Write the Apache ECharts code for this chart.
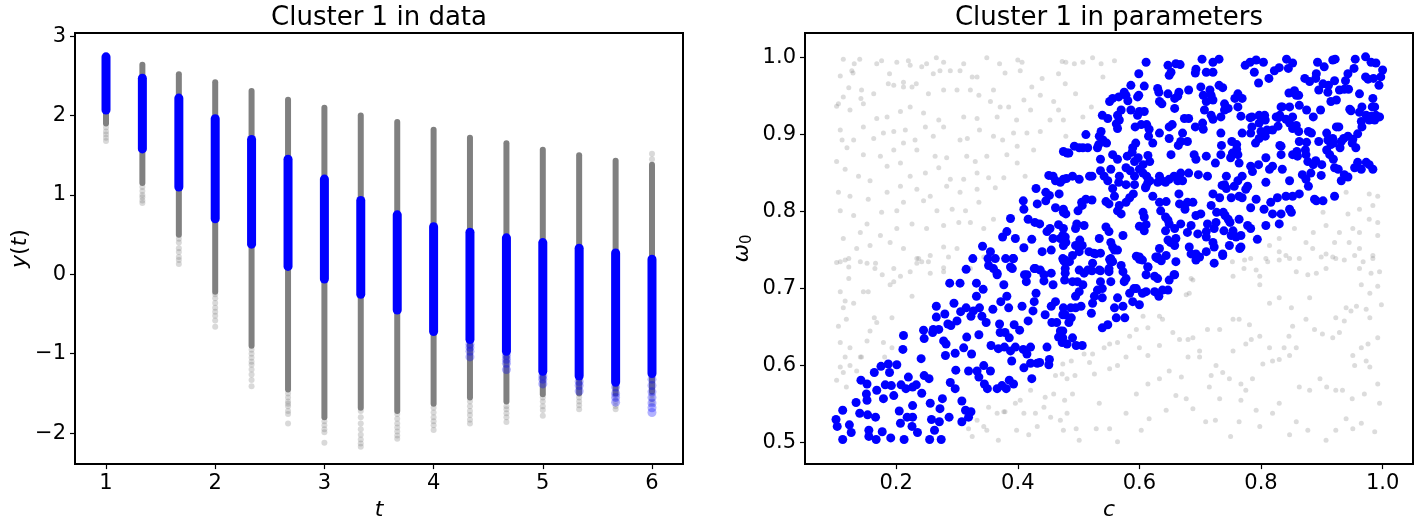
<!DOCTYPE html>
<html>
<head>
<meta charset="utf-8">
<script src="https://cdn.jsdelivr.net/npm/echarts@6/dist/echarts.min.js"></script>
<style>
  html, body { margin: 0; padding: 0; background: #fff; }
  #chart { width: 1424px; height: 526px; }
</style>
</head>
<body>
<div id="chart"></div>
<script>
// ---- left panel: y(t) per time step ----
var tVals = [1, 1.333, 1.667, 2, 2.333, 2.667, 3, 3.333, 3.667, 4, 4.333, 4.667, 5, 5.333, 5.667, 6];
// dense part of the grey strips
var grayHi = [2.72, 2.64, 2.52, 2.42, 2.31, 2.20, 2.10, 2.00, 1.92, 1.82, 1.72, 1.65, 1.57, 1.50, 1.43, 1.38];
var grayLo = [1.90, 1.15, 0.50, -0.22, -0.90, -1.45, -1.80, -1.68, -1.72, -1.63, -1.55, -1.60, -1.51, -1.50, -1.50, -1.48];
// dense part of the blue strips (cluster 1)
var blueHi = [2.74, 2.47, 2.22, 1.96, 1.70, 1.45, 1.20, 0.93, 0.75, 0.60, 0.53, 0.46, 0.40, 0.33, 0.27, 0.19];
var blueLo = [2.07, 1.58, 1.10, 0.70, 0.38, 0.10, -0.06, -0.25, -0.45, -0.72, -0.82, -0.97, -1.22, -1.28, -1.36, -1.25];
// sparse tail points
var grayTail = [
  [1, 1.85], [1, 1.80], [1, 1.76], [1, 1.72], [1, 1.68],
  [1.333, 1.10], [1.333, 1.05], [1.333, 1.00], [1.333, 0.97], [1.333, 0.93], [1.333, 0.90],
  [1.667, 0.45], [1.667, 0.40], [1.667, 0.33], [1.667, 0.28], [1.667, 0.22], [1.667, 0.18], [1.667, 0.13],
  [2, -0.25], [2, -0.30], [2, -0.36], [2, -0.42], [2, -0.47], [2, -0.52], [2, -0.58], [2, -0.66],
  [2.333, -0.95], [2.333, -1.00], [2.333, -1.05], [2.333, -1.10], [2.333, -1.14], [2.333, -1.20], [2.333, -1.26], [2.333, -1.33], [2.333, -1.41],
  [2.667, -1.50], [2.667, -1.55], [2.667, -1.60], [2.667, -1.63], [2.667, -1.66], [2.667, -1.72], [2.667, -1.76], [2.667, -1.88],
  [3, -1.85], [3, -1.90], [3, -1.95], [3, -1.99], [3, -2.12],
  [3.333, -1.72], [3.333, -1.80], [3.333, -1.88], [3.333, -1.95], [3.333, -2.02], [3.333, -2.08], [3.333, -2.13], [3.333, -2.17],
  [3.667, -1.76], [3.667, -1.82], [3.667, -1.88], [3.667, -1.93], [3.667, -1.98], [3.667, -2.03], [3.667, -2.07],
  [4, -1.68], [4, -1.74], [4, -1.80], [4, -1.85], [4, -1.90], [4, -1.96],
  [4.333, -1.60], [4.333, -1.66], [4.333, -1.72], [4.333, -1.77], [4.333, -1.83], [4.333, -1.88],
  [4.667, -1.66], [4.667, -1.70], [4.667, -1.75], [4.667, -1.80], [4.667, -1.86],
  [5, -1.55], [5, -1.60], [5, -1.66], [5, -1.71], [5, -1.78],
  [5.333, -1.55], [5.333, -1.60], [5.333, -1.65], [5.333, -1.70],
  [5.667, -1.55], [5.667, -1.60], [5.667, -1.66], [5.667, -1.70],
  [6, -1.52], [6, -1.57], [6, -1.62], [6, 1.45], [6, 1.52]
];
var blueTail = [
  [4.333, -0.88], [4.333, -0.92], [4.333, -0.97], [4.333, -1.04],
  [4.667, -1.02], [4.667, -1.07], [4.667, -1.12], [4.667, -1.20],
  [5, -1.28], [5, -1.32], [5, -1.38],
  [5.333, -1.35], [5.333, -1.40], [5.333, -1.47],
  [5.667, -1.42], [5.667, -1.50], [5.667, -1.55], [5.667, -1.61],
  [6, -1.32], [6, -1.40], [6, -1.48], [6, -1.55], [6, -1.62], [6, -1.68], [6, -1.74]
];
var xTicksL = [1, 2, 3, 4, 5, 6];
var yTicksL = [-2, -1, 0, 1, 2, 3];

// ---- right panel: parameters (c, omega_0) ----
var blueParams = [
  [0.101,0.530],[0.103,0.521],[0.112,0.504],[0.112,0.542],[0.123,0.523],[0.126,0.513],[0.134,0.552],[0.140,0.538],
  [0.142,0.581],[0.152,0.576],[0.151,0.563],[0.152,0.555],[0.153,0.536],[0.155,0.516],[0.155,0.508],[0.166,0.533],
  [0.167,0.504],[0.168,0.568],[0.164,0.591],[0.175,0.599],[0.177,0.514],[0.179,0.557],[0.182,0.575],[0.187,0.602],
  [0.189,0.591],[0.192,0.574],[0.191,0.506],[0.196,0.561],[0.201,0.601],[0.205,0.541],[0.207,0.525],[0.208,0.575],
  [0.212,0.639],[0.211,0.621],[0.213,0.504],[0.216,0.570],[0.218,0.533],[0.220,0.585],[0.226,0.521],[0.227,0.548],
  [0.227,0.572],[0.227,0.533],[0.233,0.575],[0.235,0.513],[0.241,0.609],[0.242,0.564],[0.245,0.646],[0.246,0.635],
  [0.246,0.587],[0.254,0.583],[0.255,0.504],[0.256,0.551],[0.258,0.530],[0.260,0.643],[0.261,0.647],[0.263,0.516],
  [0.266,0.663],[0.266,0.677],[0.270,0.647],[0.271,0.527],[0.272,0.544],[0.274,0.504],[0.276,0.557],[0.278,0.632],
  [0.280,0.667],[0.281,0.613],[0.282,0.628],[0.285,0.654],[0.287,0.533],[0.288,0.707],[0.289,0.578],[0.290,0.652],
  [0.295,0.681],[0.297,0.616],[0.297,0.570],[0.298,0.594],[0.300,0.658],[0.305,0.707],[0.306,0.670],[0.308,0.554],
  [0.308,0.527],[0.311,0.623],[0.314,0.542],[0.315,0.675],[0.316,0.637],[0.319,0.593],[0.319,0.533],[0.323,0.540],
  [0.323,0.664],[0.324,0.615],[0.327,0.671],[0.332,0.707],[0.332,0.690],[0.333,0.593],[0.336,0.585],[0.336,0.640],
  [0.337,0.675],[0.341,0.664],[0.343,0.699],[0.344,0.600],[0.345,0.576],[0.348,0.656],[0.350,0.570],[0.355,0.593],
  [0.356,0.626],[0.359,0.673],[0.360,0.726],[0.363,0.739],[0.366,0.720],[0.366,0.570],[0.368,0.622],[0.370,0.654],
  [0.371,0.643],[0.372,0.683],[0.374,0.574],[0.377,0.705],[0.378,0.624],[0.379,0.643],[0.381,0.570],[0.382,0.690],
  [0.385,0.675],[0.386,0.636],[0.386,0.581],[0.388,0.619],[0.388,0.728],[0.390,0.606],[0.392,0.739],[0.393,0.576],
  [0.394,0.653],[0.396,0.624],[0.403,0.646],[0.407,0.677],[0.409,0.621],[0.410,0.597],[0.411,0.718],[0.414,0.709],
  [0.415,0.615],[0.417,0.658],[0.421,0.603],[0.421,0.624],[0.423,0.583],[0.425,0.671],[0.427,0.726],[0.427,0.683],
  [0.430,0.694],[0.432,0.603],[0.436,0.604],[0.437,0.724],[0.443,0.710],[0.445,0.666],[0.448,0.624],[0.451,0.601],
  [0.452,0.608],[0.455,0.677],[0.456,0.656],[0.458,0.705],[0.462,0.683],[0.464,0.656],[0.467,0.637],[0.470,0.645],
  [0.473,0.630],[0.475,0.737],[0.475,0.675],[0.478,0.666],[0.478,0.720],[0.481,0.628],[0.484,0.656],
  [0.475,0.878],[0.481,0.876],[0.451,0.847],[0.458,0.846],[0.462,0.840],[0.470,0.838],[0.480,0.843],[0.430,0.830],
  [0.446,0.825],[0.452,0.821],[0.468,0.823],[0.409,0.814],[0.432,0.810],[0.446,0.814],[0.462,0.805],[0.410,0.803],
  [0.417,0.790],[0.428,0.786],[0.436,0.784],[0.448,0.774],[0.453,0.778],[0.467,0.783],[0.475,0.799],[0.475,0.778],
  [0.458,0.765],[0.470,0.765],[0.478,0.767],[0.388,0.791],[0.382,0.774],[0.375,0.767],[0.396,0.765],[0.410,0.753],
  [0.423,0.764],[0.440,0.748],[0.455,0.750],[0.475,0.756],[0.342,0.755],[0.355,0.748],[0.326,0.739],[0.315,0.725],
  [0.351,0.739],[0.352,0.730],[0.380,0.739],[0.393,0.739],[0.391,0.726],[0.366,0.718],[0.415,0.718],[0.429,0.726],
  [0.443,0.718],[0.455,0.720],[0.478,0.737],[0.478,0.726],
  [0.611,0.994],[0.599,0.979],[0.647,0.990],[0.652,0.981],[0.660,0.992],[0.667,0.991],[0.649,0.977],[0.693,0.985],
  [0.692,0.980],[0.703,0.998],[0.710,0.981],[0.721,0.994],[0.721,0.981],[0.731,0.998],[0.774,0.990],[0.782,0.994],
  [0.792,0.997],[0.804,0.994],[0.789,0.981],[0.796,0.967],[0.813,0.973],[0.822,0.983],[0.830,0.987],[0.842,0.998],
  [0.852,0.993],[0.845,0.986],[0.893,0.994],[0.904,0.988],[0.918,0.997],[0.922,0.998],[0.955,0.998],[0.972,1.001],
  [0.981,0.994],[0.989,0.993],[1.000,0.984],[0.997,0.975],[0.985,0.973],[0.972,0.975],[0.976,0.972],[0.943,0.979],
  [0.939,0.970],[0.953,0.986],[0.994,0.964],
  [0.586,0.964],[0.599,0.951],[0.608,0.963],[0.630,0.960],[0.632,0.955],[0.647,0.953],[0.658,0.947],[0.663,0.950],
  [0.665,0.955],[0.681,0.958],[0.701,0.962],[0.705,0.951],[0.716,0.958],[0.718,0.951],[0.721,0.945],[0.731,0.964],
  [0.737,0.961],[0.762,0.953],[0.769,0.947],[0.757,0.947],[0.575,0.955],[0.578,0.951],[0.566,0.949],[0.556,0.947],
  [0.551,0.943],[0.581,0.944],[0.597,0.949],[0.633,0.943],[0.637,0.940],[0.658,0.934],[0.674,0.921],[0.681,0.921],
  [0.707,0.932],[0.710,0.943],[0.718,0.925],[0.721,0.920],[0.740,0.940],[0.740,0.932],[0.746,0.934],[0.762,0.936],
  [0.767,0.924],[0.782,0.922],[0.806,0.925],[0.825,0.923],[0.831,0.925],[0.835,0.936],[0.846,0.954],[0.855,0.957],
  [0.862,0.951],[0.872,0.973],[0.880,0.969],[0.891,0.979],[0.890,0.973],[0.895,0.958],[0.902,0.966],[0.910,0.955],
  [0.911,0.964],[0.921,0.970],[0.924,0.945],[0.929,0.958],[0.937,0.959],[0.944,0.959],[0.962,0.953],[0.984,0.947],
  [0.987,0.936],[0.973,0.925],[0.981,0.924],[0.987,0.919],[0.995,0.923],[0.966,0.936],[0.962,0.929],[0.946,0.933],
  [0.948,0.931],[0.915,0.943],[0.898,0.932],[0.886,0.923],[0.875,0.932],[0.863,0.938],[0.858,0.951],[0.847,0.936],
  [0.833,0.936],[0.829,0.922],[0.807,0.919],[0.797,0.915],[0.800,0.904],[0.819,0.906],[0.769,0.902],[0.785,0.910],
  [0.785,0.923],[0.797,0.925],
  [0.539,0.925],[0.548,0.921],[0.564,0.925],[0.567,0.919],[0.562,0.914],[0.570,0.932],[0.586,0.932],[0.600,0.930],
  [0.608,0.930],[0.593,0.910],[0.612,0.913],[0.616,0.907],[0.615,0.898],[0.622,0.889],[0.603,0.913],[0.597,0.925],
  [0.564,0.908],[0.537,0.904],[0.534,0.898],[0.540,0.893],[0.546,0.889],[0.533,0.887],[0.512,0.900],[0.501,0.883],
  [0.493,0.885],[0.484,0.876],[0.531,0.883],[0.594,0.889],[0.589,0.883],[0.588,0.877],[0.633,0.902],[0.649,0.910],
  [0.654,0.913],[0.649,0.895],[0.671,0.902],[0.664,0.886],[0.668,0.891],[0.679,0.891],[0.692,0.910],[0.704,0.915],
  [0.705,0.907],[0.734,0.902],[0.735,0.886],[0.734,0.923],[0.752,0.891],[0.760,0.887],[0.760,0.881],[0.783,0.902],
  [0.797,0.895],[0.791,0.889],[0.807,0.898],[0.810,0.906],[0.831,0.886],[0.833,0.874],[0.828,0.911],[0.841,0.920],
  [0.847,0.915],[0.852,0.923],[0.852,0.908],[0.858,0.912],[0.862,0.904],[0.863,0.891],[0.875,0.890],[0.878,0.904],
  [0.883,0.902],[0.895,0.891],[0.908,0.902],[0.910,0.893],[0.915,0.887],[0.918,0.895],[0.924,0.910],[0.928,0.910],
  [0.936,0.895],[0.943,0.898],[0.951,0.894],[0.950,0.889],[0.956,0.883],[0.959,0.901],[0.965,0.917],[0.966,0.910],
  [0.983,0.936],[0.989,0.925],[0.978,0.919],[0.932,0.891],
  [0.507,0.883],[0.515,0.883],[0.536,0.868],[0.556,0.874],[0.564,0.868],[0.580,0.872],[0.592,0.865],[0.598,0.870],
  [0.614,0.873],[0.617,0.865],[0.606,0.861],[0.600,0.855],[0.578,0.857],[0.585,0.853],[0.592,0.846],[0.606,0.850],
  [0.612,0.846],[0.614,0.838],[0.610,0.831],[0.553,0.855],[0.536,0.853],[0.522,0.846],[0.518,0.846],[0.501,0.842],
  [0.490,0.846],[0.475,0.842],[0.542,0.846],[0.548,0.840],[0.556,0.830],[0.566,0.838],[0.567,0.846],[0.578,0.835],
  [0.592,0.835],[0.630,0.838],[0.633,0.846],[0.637,0.840],[0.643,0.838],[0.649,0.842],[0.652,0.874],[0.668,0.850],
  [0.657,0.846],[0.663,0.840],[0.671,0.840],[0.681,0.850],[0.690,0.874],[0.693,0.868],[0.697,0.848],[0.710,0.872],
  [0.712,0.846],[0.725,0.863],[0.734,0.874],[0.740,0.835],[0.743,0.846],[0.750,0.870],[0.753,0.876],[0.762,0.874],
  [0.764,0.863],[0.762,0.840],[0.769,0.846],[0.775,0.829],[0.778,0.833],[0.783,0.859],[0.786,0.852],[0.796,0.861],
  [0.808,0.870],[0.814,0.855],[0.819,0.859],[0.808,0.838],[0.833,0.885],[0.835,0.855],[0.847,0.840],[0.852,0.874],
  [0.859,0.878],[0.860,0.872],[0.873,0.880],[0.874,0.874],[0.877,0.865],[0.886,0.861],[0.890,0.866],[0.868,0.848],
  [0.874,0.842],[0.878,0.833],[0.882,0.850],[0.900,0.861],[0.908,0.880],[0.913,0.874],[0.919,0.889],[0.919,0.868],
  [0.921,0.857],[0.927,0.855],[0.930,0.883],[0.937,0.848],[0.932,0.840],[0.943,0.845],[0.954,0.857],[0.959,0.864],
  [0.965,0.855],[0.973,0.864],[0.978,0.861],[0.984,0.855],[0.899,0.847],[0.891,0.814],[0.902,0.814],[0.921,0.820],
  [0.888,0.816],[0.863,0.823],[0.852,0.820],[0.841,0.820],[0.827,0.818],[0.816,0.812],[0.805,0.803],[0.819,0.797],
  [0.833,0.797],[0.847,0.803],[0.850,0.799],[0.830,0.784],[0.808,0.782],[0.794,0.764],[0.783,0.778],[0.778,0.782],
  [0.783,0.805],[0.792,0.816],[0.764,0.820],[0.769,0.818],[0.751,0.818],[0.756,0.833],[0.743,0.830],[0.736,0.834],
  [0.732,0.818],[0.721,0.823],[0.718,0.808],[0.727,0.799],[0.738,0.799],[0.741,0.795],[0.746,0.790],[0.749,0.786],
  [0.764,0.790],[0.767,0.769],[0.751,0.769],[0.739,0.775],[0.723,0.778],[0.712,0.784],[0.710,0.774],[0.696,0.771],
  [0.685,0.782],[0.679,0.773],[0.668,0.784],[0.660,0.765],[0.651,0.760],[0.647,0.763],[0.658,0.756],[0.682,0.754],
  [0.685,0.745],[0.693,0.745],[0.699,0.741],[0.710,0.767],[0.721,0.760],[0.723,0.754],[0.737,0.745],[0.748,0.756],
  [0.759,0.767],[0.767,0.754],[0.754,0.775],[0.726,0.786],[0.701,0.797],[0.693,0.795],[0.688,0.812],[0.679,0.812],
  [0.674,0.808],[0.675,0.803],[0.665,0.823],[0.666,0.810],[0.644,0.813],[0.633,0.812],[0.635,0.801],[0.643,0.793],
  [0.649,0.784],[0.658,0.778],[0.622,0.820],[0.611,0.833],[0.617,0.840],[0.584,0.818],[0.590,0.823],[0.578,0.812],
  [0.567,0.808],[0.564,0.801],[0.570,0.797],[0.559,0.820],[0.545,0.813],[0.550,0.810],[0.522,0.815],[0.512,0.816],
  [0.505,0.812],[0.506,0.808],[0.499,0.801],[0.479,0.797],[0.475,0.803],[0.495,0.778],[0.497,0.784],[0.509,0.782],
  [0.502,0.763],[0.506,0.756],[0.495,0.756],[0.479,0.760],[0.474,0.769],[0.485,0.735],[0.490,0.743],[0.501,0.748],
  [0.517,0.748],[0.528,0.745],[0.534,0.765],[0.545,0.780],[0.550,0.774],[0.553,0.760],[0.573,0.769],[0.556,0.754],
  [0.559,0.750],[0.551,0.738],[0.553,0.735],[0.570,0.730],[0.595,0.742],[0.600,0.738],[0.614,0.728],[0.630,0.741],
  [0.636,0.736],[0.658,0.718],[0.522,0.723],[0.536,0.723],[0.550,0.726],[0.501,0.724],[0.474,0.739],[0.647,0.789],
  [0.608,0.793],[0.606,0.799],[0.600,0.781],[0.608,0.775],[0.611,0.783],[0.643,0.775],[0.633,0.752],[0.627,0.741],
  [0.477,0.735],[0.477,0.711],[0.490,0.709],[0.498,0.709],[0.501,0.696],[0.495,0.690],[0.507,0.705],[0.509,0.720],
  [0.515,0.724],[0.523,0.733],[0.525,0.746],[0.536,0.746],[0.534,0.724],[0.536,0.709],[0.539,0.700],[0.550,0.722],
  [0.553,0.709],[0.553,0.739],[0.556,0.735],[0.564,0.750],[0.573,0.722],[0.575,0.709],[0.584,0.694],[0.564,0.688],
  [0.559,0.675],[0.573,0.677],[0.539,0.688],[0.526,0.690],[0.523,0.681],[0.521,0.668],[0.531,0.698],[0.504,0.677],
  [0.495,0.675],[0.487,0.675],[0.474,0.666],[0.488,0.662],[0.474,0.645],[0.474,0.636],[0.490,0.636],[0.496,0.626],
  [0.506,0.626],[0.539,0.649],[0.548,0.653],[0.562,0.662],[0.576,0.662],[0.589,0.683],[0.600,0.679],[0.591,0.700],
  [0.595,0.700],[0.600,0.741],[0.605,0.737],[0.614,0.728],[0.611,0.718],[0.625,0.716],[0.630,0.713],[0.625,0.696],
  [0.632,0.690],[0.638,0.698],[0.647,0.698],[0.649,0.711],[0.657,0.718],[0.660,0.735],[0.630,0.739],[0.644,0.743],
  [0.611,0.696],[0.605,0.694],[0.578,0.713],[0.693,0.737],[0.710,0.748],[0.723,0.733],[0.737,0.743],[0.765,0.752]
];
var grayParams = [
  [0.113,0.998],[0.131,0.992],[0.140,0.998],[0.127,0.983],[0.129,0.980],[0.108,0.976],[0.122,0.961],[0.143,0.958],
  [0.105,0.940],[0.102,0.937],[0.113,0.949],[0.146,0.940],[0.124,0.932],[0.142,0.947],[0.163,0.953],[0.168,0.992],
  [0.176,0.996],[0.189,0.979],[0.201,0.994],[0.220,0.996],[0.223,0.990],[0.242,0.988],[0.250,0.992],[0.266,1.000],
  [0.278,0.994],[0.261,0.979],[0.272,0.983],[0.289,0.983],[0.305,0.983],[0.311,0.992],[0.325,0.975],[0.333,0.975],
  [0.349,1.000],[0.370,0.992],[0.379,0.980],[0.400,0.997],[0.407,0.994],[0.404,0.983],[0.440,0.973],[0.423,0.962],
  [0.473,0.995],[0.467,0.979],[0.478,0.966],[0.212,0.968],[0.226,0.962],[0.233,0.966],[0.187,0.966],[0.196,0.964],
  [0.212,0.962],[0.253,0.953],[0.278,0.958],[0.300,0.958],[0.322,0.958],[0.336,0.951],[0.360,0.958],[0.355,0.943],
  [0.371,0.936],[0.385,0.936],[0.410,0.945],[0.437,0.951],[0.459,0.943],[0.467,0.932],[0.475,0.919],[0.453,0.919],
  [0.421,0.932],[0.398,0.919],[0.366,0.923],[0.333,0.921],[0.311,0.923],[0.270,0.919],[0.245,0.928],[0.223,0.936],
  [0.207,0.930],[0.185,0.923],[0.168,0.921],[0.146,0.910],[0.108,0.906],[0.111,0.893],[0.130,0.893],[0.163,0.895],
  [0.179,0.902],[0.196,0.904],[0.215,0.906],[0.231,0.893],[0.248,0.910],[0.261,0.898],[0.278,0.910],[0.305,0.893],
  [0.317,0.895],[0.337,0.906],[0.360,0.898],[0.375,0.893],[0.393,0.902],[0.415,0.902],[0.437,0.904],[0.426,0.880],
  [0.399,0.885],[0.382,0.874],[0.349,0.872],[0.330,0.865],[0.316,0.872],[0.283,0.870],[0.264,0.872],[0.234,0.880],
  [0.212,0.889],[0.196,0.880],[0.174,0.872],[0.146,0.874],[0.119,0.883],[0.102,0.865],[0.116,0.855],[0.138,0.846],
  [0.157,0.840],[0.185,0.859],[0.207,0.863],[0.223,0.846],[0.248,0.850],[0.270,0.857],[0.289,0.842],[0.311,0.842],
  [0.333,0.850],[0.352,0.844],[0.377,0.844],[0.399,0.863],[0.412,0.846],[0.363,0.831],[0.333,0.829],[0.305,0.825],
  [0.283,0.833],[0.256,0.820],[0.234,0.829],[0.207,0.833],[0.185,0.825],[0.154,0.816],[0.124,0.820],[0.105,0.825],
  [0.108,0.801],[0.130,0.795],[0.152,0.784],[0.176,0.799],[0.201,0.801],[0.212,0.812],[0.245,0.814],[0.267,0.801],
  [0.292,0.803],[0.314,0.801],[0.336,0.812],[0.360,0.790],[0.344,0.778],[0.322,0.786],[0.303,0.786],[0.278,0.782],
  [0.250,0.778],[0.226,0.784],[0.201,0.778],[0.174,0.769],[0.141,0.773],[0.113,0.765],[0.108,0.735],[0.122,0.739],
  [0.135,0.752],[0.157,0.756],[0.190,0.760],[0.212,0.752],[0.234,0.739],[0.256,0.743],[0.278,0.754],[0.300,0.752],
  [0.234,0.733],[0.165,0.726],[0.196,0.726],[0.278,0.727],
  [0.102,0.734],[0.116,0.737],[0.122,0.728],[0.122,0.713],[0.108,0.696],[0.116,0.684],[0.130,0.681],[0.113,0.675],
  [0.105,0.651],[0.118,0.660],[0.108,0.630],[0.124,0.623],[0.116,0.611],[0.108,0.598],[0.124,0.600],[0.113,0.591],
  [0.102,0.581],[0.118,0.572],[0.141,0.735],[0.152,0.733],[0.166,0.733],[0.177,0.718],[0.146,0.696],[0.154,0.696],
  [0.164,0.662],[0.168,0.656],[0.190,0.705],[0.207,0.716],[0.223,0.722],[0.237,0.739],[0.242,0.735],[0.253,0.735],
  [0.256,0.720],[0.226,0.690],[0.193,0.662],[0.179,0.630],[0.193,0.623],[0.181,0.611],[0.152,0.632],[0.157,0.645],
  [0.141,0.611],[0.135,0.593],[0.143,0.611],[0.196,0.709],[0.286,0.741],[0.278,0.722],[0.322,0.726],[0.344,0.741],
  [0.305,0.525],[0.319,0.518],[0.333,0.529],[0.344,0.521],[0.349,0.516],[0.366,0.538],[0.368,0.503],[0.379,0.540],
  [0.398,0.516],[0.410,0.538],[0.429,0.538],[0.443,0.546],[0.454,0.533],[0.470,0.529],[0.475,0.516],[0.462,0.587],
  [0.473,0.589],[0.459,0.563],[0.445,0.559],[0.421,0.568],[0.404,0.555],[0.396,0.551],[0.377,0.540],[0.352,0.546],
  [0.325,0.508],[0.432,0.521],[0.418,0.510],[0.481,0.538],
  [0.688,0.711],[0.682,0.694],[0.677,0.692],[0.685,0.713],[0.754,0.716],[0.773,0.737],[0.792,0.724],[0.798,0.716],
  [0.808,0.739],[0.830,0.737],[0.841,0.743],[0.858,0.722],[0.877,0.718],[0.880,0.688],[0.891,0.720],[0.899,0.741],
  [0.918,0.741],[0.937,0.737],[0.954,0.743],[0.968,0.735],[0.984,0.743],[0.992,0.703],[0.981,0.720],[0.979,0.694],
  [0.965,0.705],[0.957,0.677],[0.948,0.671],[0.973,0.673],[0.998,0.679],[0.979,0.662],[0.992,0.636],[0.976,0.628],
  [0.965,0.623],[0.951,0.613],[0.973,0.606],[0.979,0.598],[0.954,0.600],[0.940,0.675],[0.923,0.662],[0.929,0.643],
  [0.937,0.658],[0.918,0.636],[0.901,0.641],[0.888,0.647],[0.874,0.660],[0.852,0.651],[0.846,0.638],[0.858,0.623],
  [0.838,0.623],[0.830,0.608],[0.814,0.623],[0.798,0.638],[0.784,0.634],[0.781,0.653],[0.764,0.660],[0.754,0.660],
  [0.732,0.647],[0.712,0.647],[0.699,0.619],[0.688,0.636],[0.680,0.634],[0.666,0.634],[0.655,0.643],[0.638,0.660],
  [0.633,0.664],[0.614,0.649],[0.606,0.664],[0.595,0.647],[0.584,0.638],[0.564,0.630],[0.551,0.628],[0.542,0.623],
  [0.523,0.615],[0.518,0.604],[0.509,0.615],[0.488,0.606],[0.474,0.602],[0.494,0.587],[0.481,0.583],[0.526,0.589],
  [0.551,0.596],[0.564,0.600],[0.578,0.611],[0.600,0.623],[0.614,0.613],[0.633,0.626],[0.649,0.593],[0.669,0.585],
  [0.680,0.611],[0.699,0.611],[0.718,0.587],[0.737,0.591],[0.748,0.583],[0.767,0.576],[0.775,0.568],[0.786,0.583],
  [0.803,0.602],[0.819,0.606],[0.847,0.613],[0.863,0.572],[0.880,0.568],[0.897,0.583],[0.908,0.572],[0.923,0.568],
  [0.934,0.568],[0.950,0.557],[0.970,0.563],[0.992,0.576],[0.995,0.551],[0.987,0.514],[0.965,0.525],[0.951,0.518],
  [0.940,0.531],[0.923,0.516],[0.907,0.503],[0.877,0.516],[0.858,0.527],[0.847,0.510],[0.830,0.551],[0.819,0.538],
  [0.798,0.521],[0.792,0.542],[0.767,0.555],[0.764,0.527],[0.750,0.508],[0.725,0.529],[0.709,0.527],[0.688,0.544],
  [0.677,0.557],[0.660,0.561],[0.644,0.542],[0.616,0.531],[0.603,0.516],[0.578,0.538],[0.564,0.501],[0.551,0.518],
  [0.534,0.551],[0.529,0.518],[0.501,0.503],[0.496,0.518],[0.490,0.563],[0.477,0.555],[0.595,0.563],[0.614,0.576],
  [0.633,0.583],[0.715,0.572],[0.732,0.557],[0.726,0.600],[0.775,0.628],[0.754,0.619],[0.850,0.675],[0.830,0.688],
  [0.814,0.681],[0.798,0.705],
  [0.479,0.994],[0.493,0.992],[0.507,0.994],[0.523,1.000],[0.537,0.992],[0.559,0.996],[0.540,0.975],[0.495,0.953],
  [0.507,0.923],[0.521,0.936],[0.479,0.898],[0.940,0.825],[0.978,0.823],[0.992,0.820],[0.984,0.808],[0.962,0.803],
  [0.943,0.797],[0.978,0.790],[0.992,0.786],[0.951,0.778],[0.929,0.773],[0.907,0.782],[0.902,0.799],[0.886,0.773],
  [0.855,0.778],[0.874,0.760],[0.830,0.765],[0.814,0.756],[0.811,0.735],[0.783,0.739],[0.830,0.748],[0.847,0.739],
  [0.863,0.739],[0.885,0.752],[0.907,0.745],[0.923,0.739],[0.945,0.760],[0.962,0.752],[0.984,0.739],[0.992,0.769],
  [0.962,0.773],[0.921,0.760],[0.772,0.726],[0.753,0.735],[0.907,0.726],[0.962,0.726],[0.995,0.722]
];
var xTicksR = [0.2, 0.4, 0.6, 0.8, 1.0];
var yTicksR = [0.5, 0.6, 0.7, 0.8, 0.9, 1.0];

var FONT = 'DejaVu Sans';
var myChart = echarts.init(document.getElementById('chart'), null, { renderer: 'canvas' });

function minusFmt(v) {
	return v < 0 ? '\u2212' + Math.abs(v) : String(v);
}

// vertical capsule from lo to hi, width in px
function stripRenderer(width, color) {
	return function (params, api) {
		var top = api.coord([api.value(0), api.value(2)]);
		var bot = api.coord([api.value(0), api.value(1)]);
		return {
			type: 'rect',
			shape: { x: top[0] - width / 2, y: top[1] - width / 2, width: width, height: bot[1] - top[1] + width, r: width / 2 },
			style: { fill: color }
		};
	};
}

var grayStrips = tVals.map(function (t, i) { return [t, grayLo[i], grayHi[i]]; });
var blueStrips = tVals.map(function (t, i) { return [t, blueLo[i], blueHi[i]]; });

var tickStyle = { show: true, length: 5, lineStyle: { color: '#000', width: 1.2 } };
var labelBase = { color: '#000', fontFamily: FONT, fontSize: 21, margin: 9 };
var nameBase = { color: '#000', fontFamily: FONT, fontSize: 22 };
var italic = { fontStyle: 'italic', fontFamily: FONT, fontSize: 22, color: '#000' };
var noLine = { show: false, onZero: false };

var option = {
	animation: false,
	backgroundColor: '#fff',
	title: [
		{ text: 'Cluster 1 in data', left: 379, top: 5, textAlign: 'center', padding: 0,
		  textStyle: { fontFamily: FONT, fontSize: 26, fontWeight: 'normal', color: '#000' } },
		{ text: 'Cluster 1 in parameters', left: 1109, top: 5, textAlign: 'center', padding: 0,
		  textStyle: { fontFamily: FONT, fontSize: 26, fontWeight: 'normal', color: '#000' } }
	],
	grid: [
		{ left: 75, top: 33, width: 608, height: 434, show: true, borderColor: '#000', borderWidth: 2, backgroundColor: 'transparent' },
		{ left: 805, top: 33, width: 608, height: 434, show: true, borderColor: '#000', borderWidth: 2, backgroundColor: 'transparent' }
	],
	xAxis: [
		{ type: 'value', gridIndex: 0, min: 0.716, max: 6.284,
		  axisLine: noLine, splitLine: { show: false },
		  axisTick: Object.assign({ customValues: xTicksL }, tickStyle),
		  axisLabel: Object.assign({ customValues: xTicksL, formatter: minusFmt }, labelBase),
		  name: '{i|t}', nameLocation: 'middle', nameGap: 29,
		  nameTextStyle: Object.assign({ rich: { i: italic } }, nameBase) },
		{ type: 'value', gridIndex: 1, min: 0.05, max: 1.05,
		  axisLine: noLine, splitLine: { show: false },
		  axisTick: Object.assign({ customValues: xTicksR }, tickStyle),
		  axisLabel: Object.assign({ customValues: xTicksR, formatter: function (v) { return v.toFixed(1); } }, labelBase),
		  name: '{i|c}', nameLocation: 'middle', nameGap: 29,
		  nameTextStyle: Object.assign({ rich: { i: italic } }, nameBase) }
	],
	yAxis: [
		{ type: 'value', gridIndex: 0, min: -2.39, max: 3.04,
		  axisLine: noLine, splitLine: { show: false },
		  axisTick: Object.assign({ customValues: yTicksL }, tickStyle),
		  axisLabel: Object.assign({ customValues: yTicksL, formatter: minusFmt }, labelBase),
		  name: '{i|y}({i|t})', nameLocation: 'middle', nameGap: 44,
		  nameTextStyle: Object.assign({ rich: { i: italic } }, nameBase) },
		{ type: 'value', gridIndex: 1, min: 0.472, max: 1.032,
		  axisLine: noLine, splitLine: { show: false },
		  axisTick: Object.assign({ customValues: yTicksR }, tickStyle),
		  axisLabel: Object.assign({ customValues: yTicksR, formatter: function (v) { return v.toFixed(1); } }, labelBase),
		  name: '{i|ω}{s|0}', nameLocation: 'middle', nameGap: 50,
		  nameTextStyle: Object.assign({ rich: {
			  i: italic,
			  s: { fontFamily: FONT, fontSize: 15, color: '#000', padding: [10, 0, 0, 0] } } }, nameBase) }
	],
	series: [
		{ type: 'custom', xAxisIndex: 0, yAxisIndex: 0, data: grayStrips, encode: { x: 0, y: [1, 2] },
		  renderItem: stripRenderer(6, '#808080'), silent: true, z: 1 },
		{ type: 'scatter', xAxisIndex: 0, yAxisIndex: 0, data: grayTail, symbolSize: 6,
		  itemStyle: { color: '#808080', opacity: 0.3 }, silent: true, z: 2 },
		{ type: 'custom', xAxisIndex: 0, yAxisIndex: 0, data: blueStrips, encode: { x: 0, y: [1, 2] },
		  renderItem: stripRenderer(9, '#0000ff'), silent: true, z: 3 },
		{ type: 'scatter', xAxisIndex: 0, yAxisIndex: 0, data: blueTail, symbolSize: 9,
		  itemStyle: { color: '#0000ff', opacity: 0.3 }, silent: true, z: 4 },
		{ type: 'scatter', xAxisIndex: 1, yAxisIndex: 1, data: grayParams, symbolSize: 5,
		  itemStyle: { color: '#808080', opacity: 0.28 }, silent: true, z: 1 },
		{ type: 'scatter', xAxisIndex: 1, yAxisIndex: 1, data: blueParams, symbolSize: 9,
		  itemStyle: { color: '#0000ff', opacity: 1 }, silent: true, z: 2 }
	]
};

myChart.setOption(option);
</script>
</body>
</html>
